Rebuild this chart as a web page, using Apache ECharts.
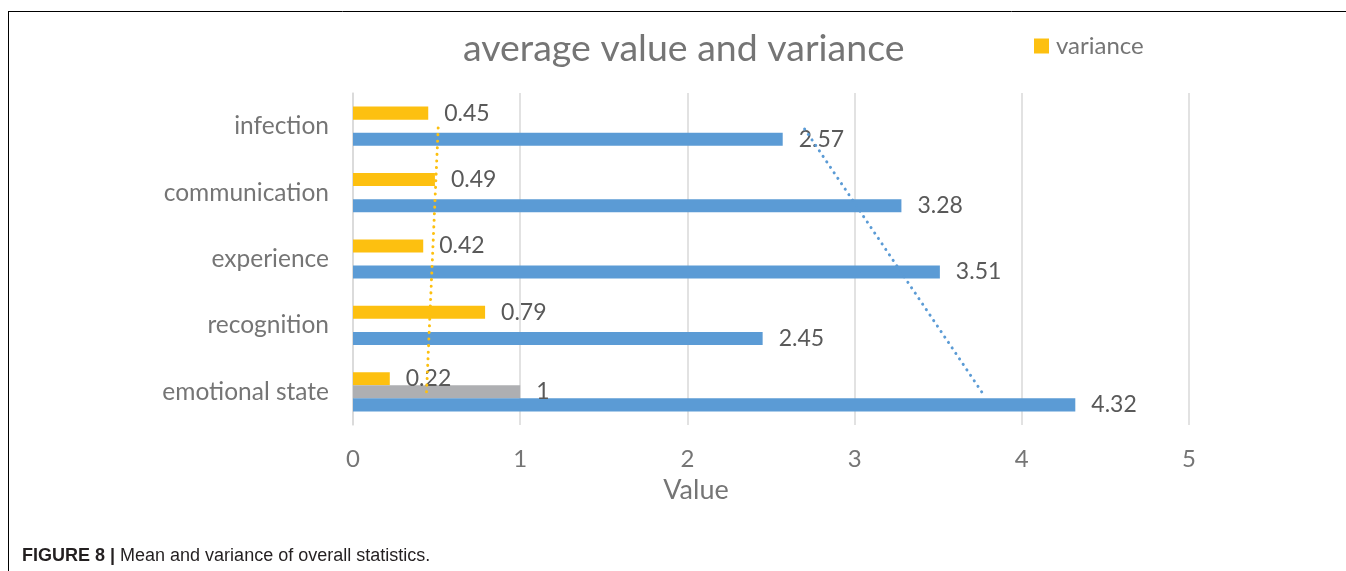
<!DOCTYPE html>
<html>
<head>
<meta charset="utf-8">
<script src="https://cdn.jsdelivr.net/npm/echarts@6/dist/echarts.min.js"></script>
<style>
html,body{margin:0;padding:0;background:#fff;}
#main{width:1346px;height:571px;}
</style>
</head>
<body>
<div id="main"></div>
<script>
// categories bottom -> top
var categories = ['emotional state', 'recognition', 'experience', 'communication', 'infection'];
var varianceVals = [0.22, 0.79, 0.42, 0.49, 0.45];
var greyVals = [1, '-', '-', '-', '-'];
var meanVals = [4.32, 2.45, 3.51, 3.28, 2.57];
// trendline ends (emotional state, infection)
var varTrend = [0.44, 0.51];
var meanTrend = [3.76, 2.69];
var xTicks = [0, 1, 2, 3, 4, 5];

var FONT = 'Lato';
var TXT = '#595959';
var AX = '#757575';

var chart = echarts.init(document.getElementById('main'));

function barLabel() {
	return {show: true, position: 'right', distance: 16, color: TXT, fontSize: 23, fontFamily: FONT};
}

var option = {
	animation: false,
	title: {
		text: 'average value and variance',
		left: 458,
		top: 25,
		textStyle: {color: AX, fontSize: 37.5, fontWeight: 'normal', fontFamily: FONT}
	},
	legend: {
		data: ['variance'],
		left: 1029,
		top: 29,
		itemWidth: 15,
		itemHeight: 15,
		itemGap: 6,
		icon: 'rect',
		textStyle: {color: AX, fontSize: 24, fontFamily: FONT, padding: [0, 0, 0, 2]}
	},
	grid: {left: 353, right: 157, top: 93, bottom: 146, containLabel: false},
	xAxis: {
		type: 'value',
		min: xTicks[0],
		max: xTicks[xTicks.length - 1],
		interval: 1,
		axisLine: {show: false},
		axisTick: {show: false},
		axisLabel: {color: AX, fontSize: 24, fontFamily: FONT, margin: 22},
		splitLine: {lineStyle: {color: '#d9d9d9', width: 1.5}}
	},
	yAxis: {
		type: 'category',
		data: categories,
		axisLine: {lineStyle: {color: '#d9d9d9', width: 1.5}},
		axisTick: {show: false},
		axisLabel: {color: AX, fontSize: 24.5, fontFamily: FONT, margin: 24}
	},
	series: [
		{
			name: 'variance', type: 'bar', data: varianceVals,
			barGap: '0%', barCategoryGap: '41%',
			itemStyle: {color: '#FDC010'},
			label: barLabel()
		},
		{
			name: 'reference', type: 'bar', data: greyVals,
			itemStyle: {color: '#AEAFB2'},
			label: barLabel()
		},
		{
			name: 'average value', type: 'bar', data: meanVals,
			itemStyle: {color: '#5B9BD5'},
			label: barLabel()
		},
		{
			name: 'variance trend', type: 'line', symbol: 'none', z: 5,
			data: [[varTrend[0], categories[0]], [varTrend[1], categories[4]]],
			lineStyle: {color: '#FDC010', width: 3, type: [0.1, 6.5], cap: 'round'}
		},
		{
			name: 'mean trend', type: 'line', symbol: 'none', z: 5,
			data: [[meanTrend[0], categories[0]], [meanTrend[1], categories[4]]],
			lineStyle: {color: '#5B9BD5', width: 3, type: [0.1, 6.5], cap: 'round'}
		}
	],
	graphic: [
		{type: 'line', shape: {x1: 8, y1: 11.5, x2: 1346, y2: 11.5}, style: {stroke: '#000', lineWidth: 1}},
		{type: 'line', shape: {x1: 8.5, y1: 11, x2: 8.5, y2: 571}, style: {stroke: '#000', lineWidth: 1}},
		{
			type: 'text', x: 696, y: 490,
			style: {
				text: 'Value', align: 'center', verticalAlign: 'middle',
				fontSize: 27, fontFamily: FONT, fill: AX
			}
		},
		{
			type: 'text', left: 22, top: 547,
			style: {
				text: '{b|FIGURE 8 |} Mean and variance of overall statistics.',
				rich: {
					b: {fontWeight: 'bold', fontSize: 18, fontFamily: 'Liberation Sans', fill: '#231f20'}
				},
				fontSize: 18, fontFamily: 'Liberation Sans', fill: '#231f20'
			}
		}
	]
};

chart.setOption(option);
</script>
</body>
</html>
